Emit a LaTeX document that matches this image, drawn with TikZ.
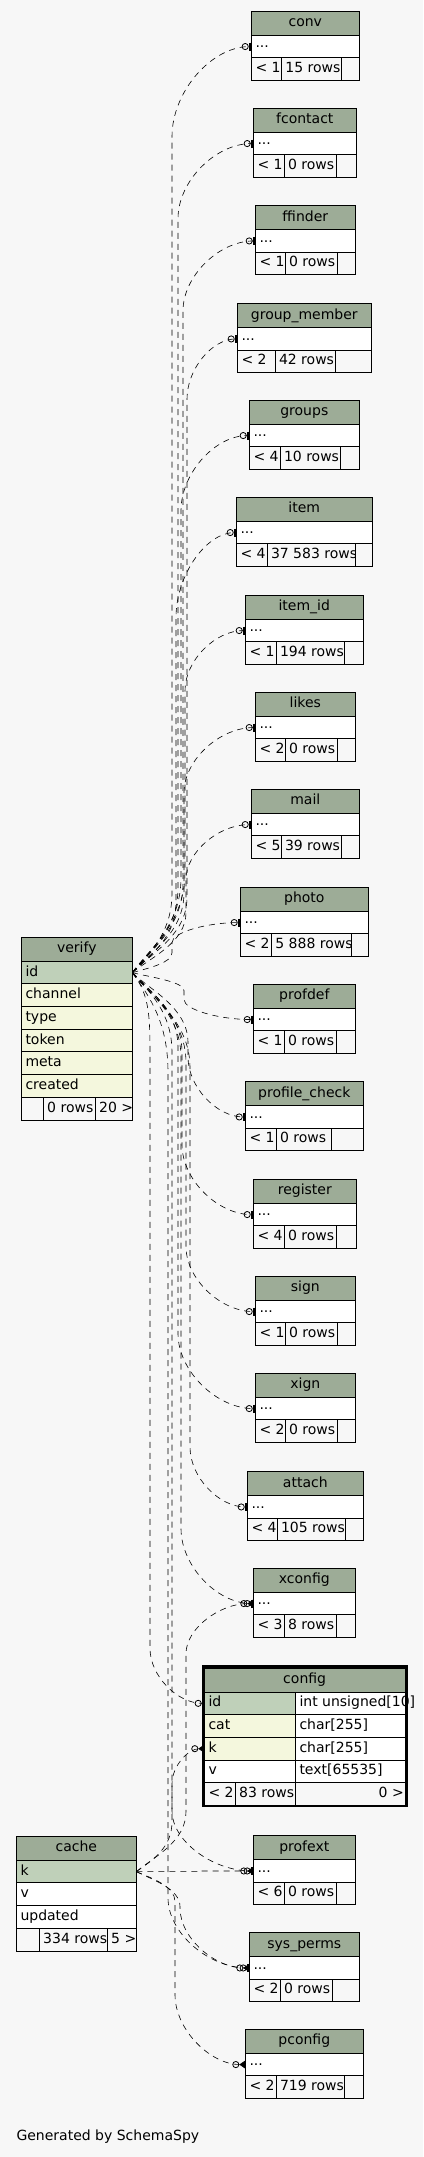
\documentclass[tikz,border=0pt]{standalone}
\usepackage{fontspec}
\setmainfont{DejaVu Sans}
\usetikzlibrary{arrows.meta,calc}

\definecolor{bgcol}{HTML}{F7F7F7}
\definecolor{hdrcol}{RGB}{157,172,151}
\definecolor{keycol}{RGB}{191,208,185}
\definecolor{colcol}{RGB}{244,247,221}

\tikzset{
  cell/.style={draw, line width=1pt, inner sep=0pt, outer sep=0pt, anchor=north west},
  head/.style={cell, fill=hdrcol, minimum height=24, text height=10pt, text depth=3.2pt},
  txt/.style={inner sep=0pt, anchor=west, text height=10pt, text depth=3.2pt},
  fk/.style={line width=.6pt, dash pattern=on 6pt off 5pt},
  vfk/.style={fk, -{Circle[open,length=7pt,line width=.8pt] Bar[width=8pt,line width=2.6pt]}},
  cfk/.style={fk, -{Circle[open,length=7pt,line width=.8pt] Triangle[reversed,length=6pt,width=8pt]}},
}

% one cell with its text on the left
\newcommand{\rowcell}[7]{%
  \node[cell, fill=#6, minimum width=#4, minimum height=#5] (#1) at (#2,{#3}) {};
  \node[txt] (#1-t) at ([xshift=4]#1.west) {#7};
}

% a table that only shows "..."
\newcommand{\smalltbl}[8]{%
  \node[head, minimum width={#3-#2}] (#1) at (#2,#4) {\expandafter\detokenize\expandafter{#1}};
  \node[cell, fill=white, minimum width={#3-#2}, minimum height=22.5] (#1-r) at (#2,{#4+24}) {};
  \node[txt, yshift=2] (#1-d) at ([xshift=4]#1-r.west) {...};
  \draw[line width=1pt] (#2,{#4+46.5}) rectangle (#5,{#4+69}) (#5,{#4+46.5}) rectangle (#6,{#4+69}) (#6,{#4+46.5}) rectangle (#3,{#4+69});
  \begin{scope}
    \clip (#2,{#4+46.5}) rectangle (#5,{#4+69});
    \node[txt] (#1-lt) at ({#2+4},{#4+57.75}) {#7};
  \end{scope}
  \begin{scope}
    \clip (#5,{#4+46.5}) rectangle (#6,{#4+69});
    \node[txt] (#1-rc) at ({#5+3.5},{#4+57.75}) {#8};
  \end{scope}
}

\begin{document}
\begin{tikzpicture}[x=1pt, y=-1pt, font=\fontsize{14}{17}\selectfont]
\useasboundingbox (0,0) rectangle (423,2157);
\fill[bgcol] (0,0) rectangle (423,2157);

% tables on the right
\foreach \n/\xa/\xb/\yt/\da/\db/\lt/\rc in {
  conv/251.3/359.3/11.3/281.7/341.7/{< 1}/{15 rows},
  fcontact/253.3/356.3/108.3/284.3/336.7/{< 1}/{0 rows},
  ffinder/255.3/355.3/205.7/285.3/337.3/{< 1}/{0 rows},
  group_member/237.3/371.3/303.7/275.3/335.7/{< 2}/{42 rows},
  groups/249.3/359.3/400.3/280.3/340.3/{< 4}/{10 rows},
  item/236.3/372.3/497.3/267.3/355.7/{< 4}/{37 583 rows},
  item_id/245.3/363.3/595.3/276.3/344.3/{< 1}/{194 rows},
  likes/255.3/355.3/692.3/285.3/337.3/{< 2}/{0 rows},
  mail/251.3/359.3/789.3/281.3/341.3/{< 5}/{39 rows},
  photo/240.3/368.3/887.3/271.7/351.7/{< 2}/{5 888 rows},
  profdef/253.3/355.3/984.3/284.3/336.7/{< 1}/{0 rows},
  profile_check/245.3/363.3/1081.7/276.3/331.3/{< 1}/{0 rows},
  register/253.3/356.3/1179.3/284.3/336.3/{< 4}/{0 rows},
  sign/255.3/355.3/1276.3/285.3/337.3/{< 1}/{0 rows},
  xign/255.3/355.3/1373.3/285.3/337.3/{< 2}/{0 rows},
  attach/247.3/363.3/1471.7/277.3/345.3/{< 4}/{105 rows},
  xconfig/253.3/355.3/1568.3/284.3/336.3/{< 3}/{8 rows},
  profext/253.3/355.3/1835.7/284.3/336.7/{< 6}/{0 rows},
  sys_perms/249.3/359.3/1932.7/280.3/332.3/{< 2}/{0 rows},
  pconfig/245.3/363.3/2029.3/276.3/344.7/{< 2}/{719 rows}} {
  \smalltbl{\n}{\xa}{\xb}{\yt}{\da}{\db}{\lt}{\rc}
}

% verify
\node[head, minimum width=111] (verify) at (21.3,937.3) {verify};
\foreach \r/\c [count=\i from 0] in {id/keycol, channel/colcol, type/colcol, token/colcol, meta/colcol, created/colcol} {
  \rowcell{verify-\r}{21.3}{961.3+\i*22.67}{111}{22.67}{\c}{\r}
}
\draw[line width=1pt] (21.3,1097.3) rectangle (43.3,1120.3) (43.3,1097.3) rectangle (95.7,1120.3) (95.7,1097.3) rectangle (132.3,1120.3);
\begin{scope}
  \clip (43.3,1097.3) rectangle (95.7,1120.3);
  \node[txt] (verify-rc) at (47,1108.8) {0 rows};
\end{scope}
\begin{scope}
  \clip (95.7,1097.3) rectangle (132.3,1120.3);
  \node[txt] (verify-kids) at (99,1108.8) {20 >};
\end{scope}

% cache
\node[head, minimum width=120] (cache) at (16.3,1836.3) {cache};
\foreach \r/\c [count=\i from 0] in {k/keycol, v/white, updated/white} {
  \rowcell{cache-\r}{16.3}{1860.3+\i*22.67}{120}{22.67}{\c}{\r}
}
\draw[line width=1pt] (16.3,1928.3) rectangle (39.3,1951) (39.3,1928.3) rectangle (107.3,1951) (107.3,1928.3) rectangle (136.3,1951);
\begin{scope}
  \clip (39.3,1928.3) rectangle (107.3,1951);
  \node[txt] (cache-rc) at (43,1939.6) {334 rows};
\end{scope}
\node[txt] (cache-kids) at (111,1939.6) {5 >};

% config, the focused table
\node[head, minimum width=200.7, minimum height=23.7] (config) at (204.3,1668.3) {config};
\foreach \r/\c/\ty [count=\i from 0] in {id/keycol/{int unsigned[10]}, cat/colcol/{char[255]}, k/colcol/{char[255]}, v/white/{text[65535]}} {
  \rowcell{config-\r}{204.3}{1692+\i*22.67}{91}{22.67}{\c}{\r}
  \rowcell{config-\r-ty}{295.3}{1692+\i*22.67}{109.7}{22.67}{white}{\ty}
}
\draw[line width=1pt] (204.3,1782.7) rectangle (235.3,1805) (235.3,1782.7) rectangle (295.3,1805) (295.3,1782.7) rectangle (405,1805);
\node[txt] (config-lt) at (208.3,1793.8) {< 2};
\begin{scope}
  \clip (235.3,1782.7) rectangle (295.3,1805);
  \node[txt] (config-rc) at (239,1793.8) {83 rows};
\end{scope}
\node[txt, anchor=east] (config-kids) at (404,1793.8) {0 >};
\draw[line width=2.6pt] (203,1666.6) rectangle (406.2,1806);

% links from verify.id
\foreach \t/\xk/\ba/\bb in {conv-r/172/-80/90, fcontact-r/178/-85/75, ffinder-r/183/-90/70,
  group_member-r/187/-75/60, groups-r/181/-95/75, item-r/176/-70/85, item_id-r/185/-100/60,
  likes-r/184/-80/65, mail-r/186/-60/55, photo-r/172/-20/20, profdef-r/184/18/-20,
  profile_check-r/188/70/-60, register-r/182/80/-70, sign-r/186/90/-65, xign-r/178/75/-75,
  attach-r/190/95/-60, xconfig-r/181/85/-75, config-id/150/90/-55, profext-r/172/80/-60,
  sys_perms-r/168/100/-70} {
  \draw[vfk] (verify-id.east) .. controls ($(verify-id.east)+(18,{\ba/4})$) and ($(\xk,0 |- verify-id.east)+(0,{\ba/2})$) .. ($(\xk,0 |- verify-id.east)+(0,\ba)$)
    -- ($(\xk,0 |- \t.west)+(0,\bb)$) .. controls ($(\xk,0 |- \t.west)+(0,{\bb/2})$) and ($(\xk,0 |- \t.west)!.5!(\t.west)$) .. (\t.west);
}

% links from cache.k
\foreach \t/\xk/\ba/\bb in {xconfig-r/186/-60/50, config-k/172/-50/35, profext-r/200/0/0,
  sys_perms-r/180/35/-60, pconfig-r/175/30/-70} {
  \draw[cfk] (cache-k.east) .. controls ($(cache-k.east)+(18,{\ba/4})$) and ($(\xk,0 |- cache-k.east)+(0,{\ba/2})$) .. ($(\xk,0 |- cache-k.east)+(0,\ba)$)
    -- ($(\xk,0 |- \t.west)+(0,\bb)$) .. controls ($(\xk,0 |- \t.west)+(0,{\bb/2})$) and ($(\xk,0 |- \t.west)!.5!(\t.west)$) .. (\t.west);
}

\node[anchor=base west, inner sep=0pt] (credit) at (16.3,2140) {Generated by SchemaSpy};
\end{tikzpicture}
\end{document}
